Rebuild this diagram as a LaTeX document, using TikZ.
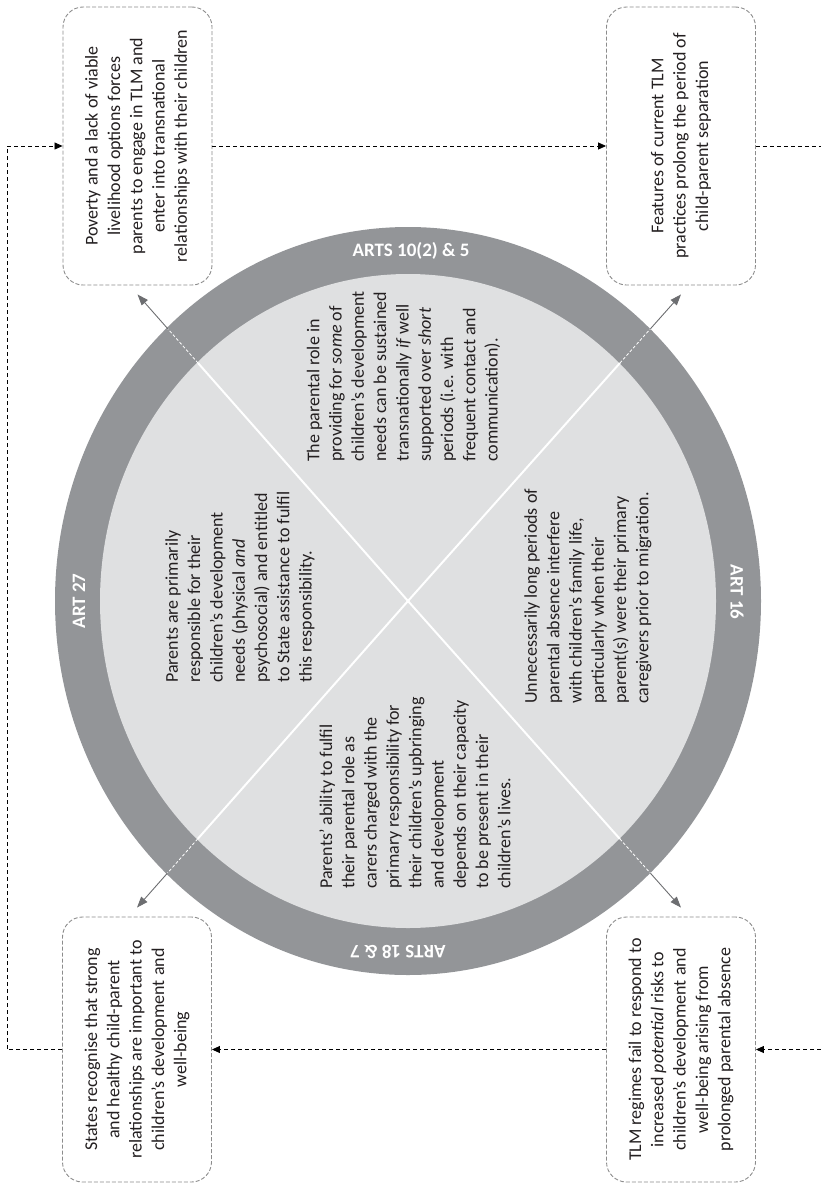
\documentclass[tikz,border=0pt]{standalone}
\usepackage{fontspec}
\setmainfont{Carlito}
\usetikzlibrary{arrows.meta,calc}
\definecolor{ringgray}{HTML}{939598}
\definecolor{innergray}{HTML}{DFE0E1}
\definecolor{boxgray}{HTML}{8C8C8C}
\definecolor{arrgray}{HTML}{6D6E71}
\definecolor{txtcol}{HTML}{231F20}
\begin{document}
\begin{tikzpicture}[x=1pt,y=-1pt,
  box/.style={draw=boxgray, dash pattern=on 4pt off 2pt, line width=0.9pt,
    rounded corners=20pt, minimum width=149pt, inner sep=0pt},
  txt/.style={rotate=90, font=\fontsize{18}{22.3}\selectfont, inner sep=0pt, text=txtcol},
  boxtxt/.style={txt, align=center},
  quadtxt/.style={txt, align=left, anchor=west},
  artlbl/.style={font=\fontsize{19}{22}\selectfont\bfseries, text=white, inner sep=0pt},
  conn/.style={black, dash pattern=on 4pt off 3pt, line width=0.8pt},
  connarrow/.style={conn, -{Triangle[length=8pt,width=7pt]}},
  whiteln/.style={white, line width=2pt},
  whitedash/.style={white, line width=0.8pt, dash pattern=on 3pt off 2pt},
  radarrow/.style={arrgray, line width=0.9pt, -{Triangle[length=11pt,width=8pt]}}
]
\useasboundingbox (0,0) rectangle (821,1183);

% ring
\coordinate (c) at (408,601);
\fill[ringgray] (c) ellipse [x radius=353, y radius=374];
\fill[innergray] (c) ellipse [x radius=308, y radius=327];

% boxes
\node[box, minimum height=278pt] (pov) at (137.5,146) {};
\node[box, minimum height=278pt] (feat) at (681,146) {};
\node[box, minimum height=265pt] (sts) at (137,1049.5) {};
\node[box, minimum height=265pt] (tlm) at (681,1049.5) {};

\node[boxtxt] at (pov) {Poverty and a lack of viable\\livelihood options forces\\parents to engage in TLM and\\enter into transnational\\relationships with their children};
\node[boxtxt] at (feat) {Features of current TLM\\practices prolong the period of\\child-parent separation};
\node[boxtxt] at (sts) {States recognise that strong\\and healthy child-parent\\relationships are important to\\children’s development and\\well-being};
\node[boxtxt] at (tlm) {TLM regimes fail to respond to\\increased \textit{potential} risks to\\children’s development and\\well-being arising from\\prolonged parental absence};

% radial arrows
\coordinate (tTL) at ($(pov.south)+(0,9)$);
\coordinate (tTR) at ($(feat.south)+(0,9)$);
\coordinate (tBL) at ($(sts.north)+(0,-9)$);
\coordinate (tBR) at ($(tlm.north)+(0,-9)$);
\foreach \t in {tTL,tTR,tBL,tBR}{
  \draw[whiteln] (c) -- ($(c)!0.776!(\t)$);
  \draw[whitedash] ($(c)!0.776!(\t)$) -- ($(c)!0.888!(\t)$);
  \draw[radarrow] ($(c)!0.888!(\t)$) -- (\t);
}

% ring labels
\node[artlbl] (a10) at (411,251) {ARTS 10(2) \& 5};
\node[artlbl, rotate=-90] (a16) at (737,592) {ART 16};
\node[artlbl, rotate=180] (a18) at (398,952) {ARTS 18 \& 7};
\node[artlbl, rotate=90] (a27) at (79,601) {ART 27};

% quadrant texts
\node[quadtxt] (qtop) at (403.5,462) {The parental role in\\providing for \textit{some} of\\children’s development\\needs can be sustained\\transnationally \textit{if} well\\supported over \textit{short}\\periods (i.e. with\\frequent contact and\\communication).};
\node[quadtxt] (qright) at (588,704) {Unnecessarily long periods of\\parental absence interfere\\with children’s family life,\\particularly when their\\parent(s) were their primary\\caregivers prior to migration.};
\node[quadtxt] (qbot) at (415,889) {Parents’ ability to fulfil\\their parental role as\\carers charged with the\\primary responsibility for\\their children’s upbringing\\and development\\depends on their capacity\\to be present in their\\children’s lives.};
\node[quadtxt] (qleft) at (240,683) {Parents are primarily\\responsible for their\\children’s development\\needs (physical \textit{and}\\psychosocial) and entitled\\to State assistance to fulfil\\this responsibility.};

% connectors
\coordinate (lx) at (7,0);
\coordinate (rx) at (821,0);
\draw[connarrow] (pov.east) -- (feat.west);
\draw[conn] (feat.east) -- (feat.east -| rx);
\draw[connarrow] (tlm.east -| rx) -- (tlm.east);
\draw[connarrow] (tlm.west) -- (sts.east);
\draw[connarrow] (sts.west) -- (sts.west -| lx) |- (pov.west);
\end{tikzpicture}
\end{document}
